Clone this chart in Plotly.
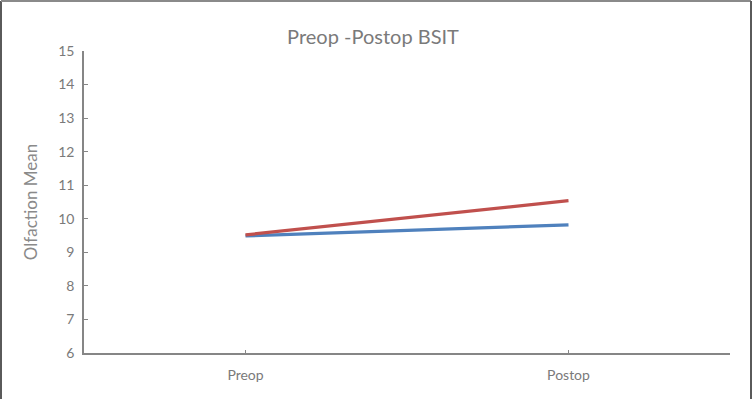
import plotly.graph_objects as go

categories = ["Preop", "Postop"]
series_blue = [9.49, 9.82]
series_red = [9.52, 10.54]
y_ticks = [6, 7, 8, 9, 10, 11, 12, 13, 14, 15]

fig = go.Figure()
fig.add_trace(go.Scatter(x=categories, y=series_blue, mode="lines",
                         line=dict(color="#4F81BD", width=3.2), showlegend=False))
fig.add_trace(go.Scatter(x=categories, y=series_red, mode="lines",
                         line=dict(color="#C0504D", width=3.2), showlegend=False))

W, H = 756, 399
L, R, T, B = 84, 26, 51, 46
pw, ph = W - L - R, H - T - B

def px(x):
    return (x - L) / pw

def py(y):
    return (H - B - y) / ph

border = dict(color="#5a5a5a", width=2)
fig.add_shape(type="line", xref="paper", yref="paper", x0=px(1), x1=px(1), y0=py(1), y1=py(399), line=border)
fig.add_shape(type="line", xref="paper", yref="paper", x0=px(1), x1=px(751), y0=py(1), y1=py(1), line=dict(color="#8a8a8a", width=2))
fig.add_shape(type="line", xref="paper", yref="paper", x0=px(751), x1=px(751), y0=py(1), y1=py(399), line=border)

fig.update_layout(
    width=W, height=H,
    margin=dict(l=L, r=R, t=T, b=B),
    paper_bgcolor="white", plot_bgcolor="white",
    font=dict(family="Lato, Open Sans, sans-serif", color="#7f7f7f"),
    title=dict(text="Preop -Postop BSIT", x=373 / W, xanchor="center",
               y=1 - 37 / H, yanchor="middle",
               font=dict(size=20, color="#7a7a7a")),
    xaxis=dict(type="category", range=[-0.5, 1.5], showline=True, linecolor="#868686",
               linewidth=1.5, ticks="inside", ticklen=3, tickcolor="#868686",
               showgrid=False, zeroline=False, ticklabelstandoff=8,
               tickfont=dict(size=14, color="#7a7a7a")),
    yaxis=dict(range=[6, 15], tickvals=y_ticks, showline=True, linecolor="#868686",
               linewidth=1.5, ticks="inside", ticklen=4, tickcolor="#868686",
               showgrid=False, zeroline=False, ticklabelstandoff=5,
               tickfont=dict(size=14, color="#7a7a7a"),
               title=dict(text="Olfaction Mean", font=dict(size=17, color="#8a8a8a"), standoff=16)),
)

fig.write_html("out.html")
